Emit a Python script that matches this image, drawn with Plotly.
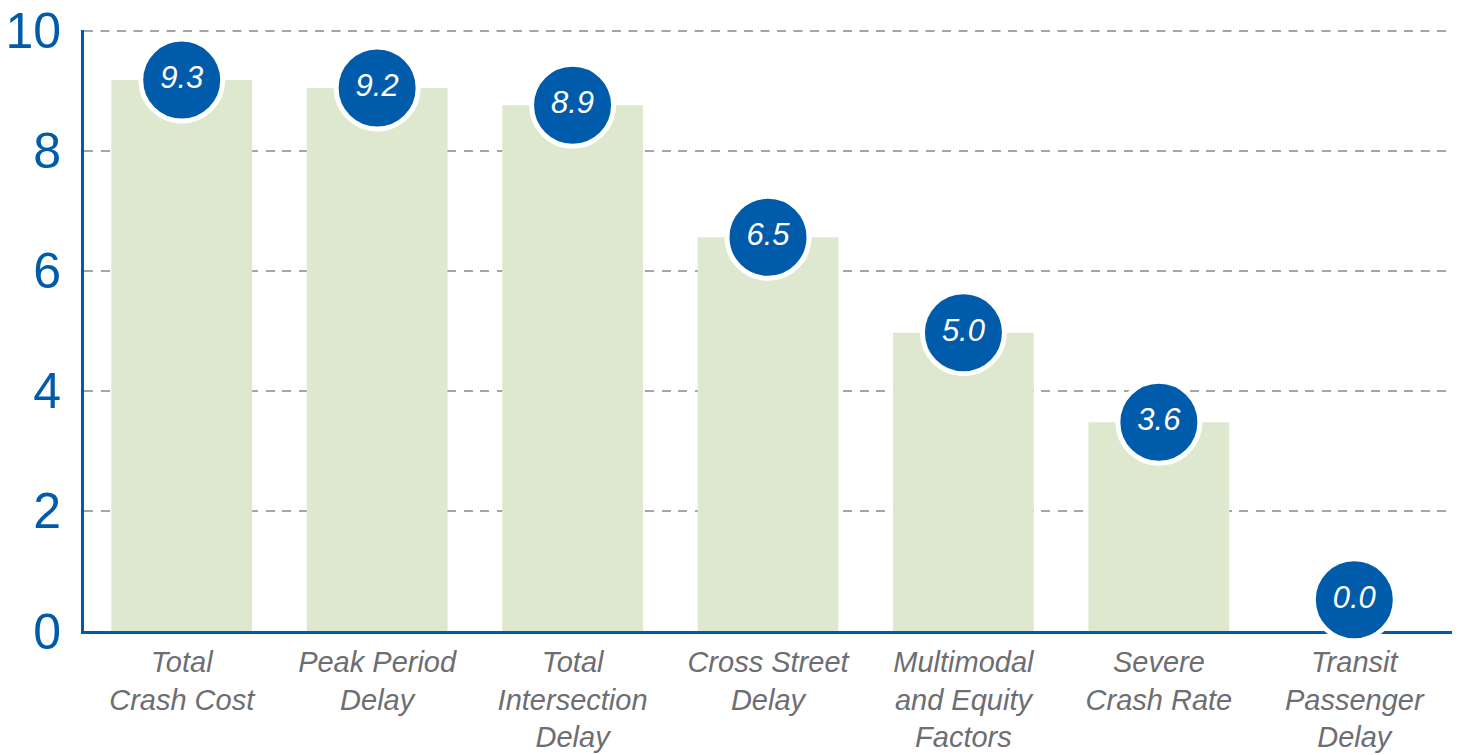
import plotly.graph_objects as go

categories = [
    "Total<br>Crash Cost",
    "Peak Period<br>Delay",
    "Total<br>Intersection<br>Delay",
    "Cross Street<br>Delay",
    "Multimodal<br>and Equity<br>Factors",
    "Severe<br>Crash Rate",
    "Transit<br>Passenger<br>Delay",
]
bar_values = [9.18, 9.05, 8.76, 6.56, 4.97, 3.48, 0.0]
label_values = [9.3, 9.2, 8.9, 6.5, 5.0, 3.6, 0.0]
y_ticks = [0, 2, 4, 6, 8, 10]

BLUE = "#005baa"
GREEN = "#dde8cf"
GRAY_TXT = "#6d6e71"
GRID = "#a3a5a8"
FONT = "Liberation Sans, Arial, Helvetica, sans-serif"

min_marker = 0.52
marker_y = [max(v, min_marker) for v in bar_values]

fig = go.Figure()
fig.add_trace(go.Bar(
    x=categories, y=bar_values,
    marker=dict(color=GREEN, line=dict(width=0)),
    hoverinfo="skip",
))
fig.add_trace(go.Scatter(
    x=categories, y=marker_y,
    mode="markers+text",
    marker=dict(size=82, color=BLUE, line=dict(color="white", width=5)),
    text=[f"{v:.1f}" for v in label_values],
    textposition="middle center",
    textfont=dict(color="white", size=31, family=FONT, style="italic"),
    cliponaxis=False,
    hoverinfo="skip",
))

# top gridline (plotly omits the one at the range edge)
fig.add_shape(
    type="line", xref="paper", yref="y",
    x0=0, x1=1, y0=y_ticks[-1], y1=y_ticks[-1],
    layer="below",
    line=dict(color=GRID, width=2, dash="9px,7.5px"),
)

fig.update_layout(
    width=1463, height=755,
    margin=dict(l=84, r=11, t=30, b=124, autoexpand=False),
    paper_bgcolor="white", plot_bgcolor="white",
    showlegend=False,
    bargap=0.28,
    xaxis=dict(
        type="category",
        range=[-0.5, len(categories) - 0.5],
        automargin=False,
        showline=True, linecolor=BLUE, linewidth=3,
        showgrid=False, ticks="",
        tickfont=dict(size=29, color=GRAY_TXT, family=FONT, style="italic"),
        layer="below traces",
        ticklabelstandoff=3,
    ),
    yaxis=dict(
        range=[0, 10.015],
        automargin=False,
        tickvals=y_ticks,
        showline=True, linecolor=BLUE, linewidth=3,
        showgrid=True, gridcolor=GRID, gridwidth=2, griddash="9px,7.5px",
        zeroline=False, ticks="",
        tickfont=dict(size=50, color=BLUE, family=FONT),
        ticklabelstandoff=10,
        layer="below traces",
    ),
)

fig.write_html(
    "out.html",
    config={"displayModeBar": False},
    post_script="document.body.style.margin='0';document.body.style.overflow='hidden';",
)
